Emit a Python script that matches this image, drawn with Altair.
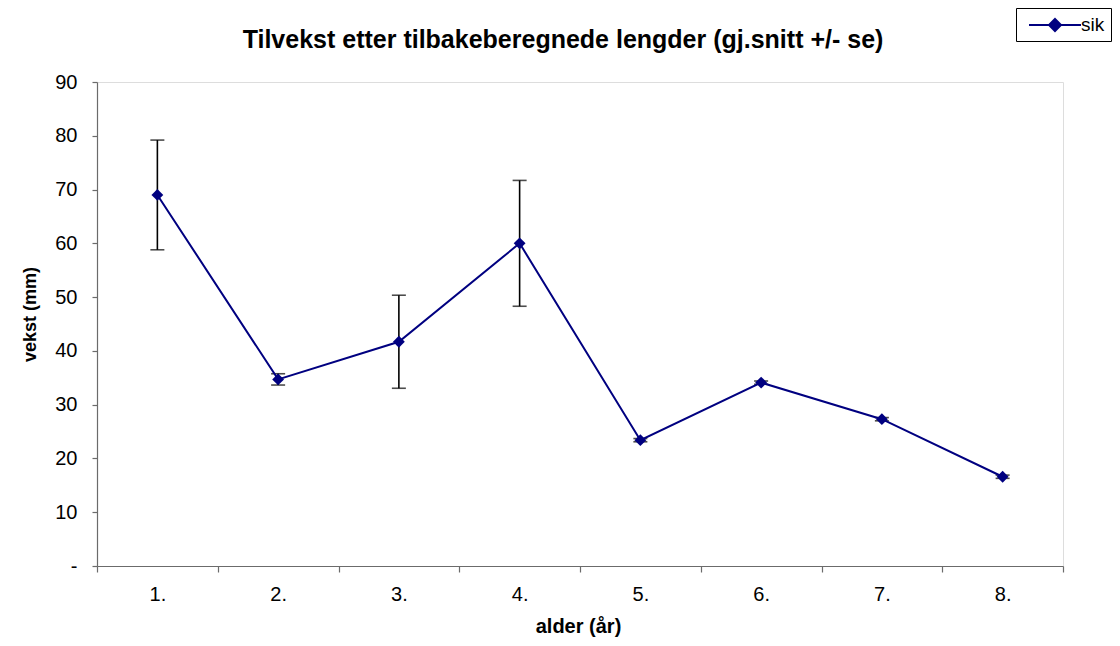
import altair as alt
import pandas as pd

ages = ["1.", "2.", "3.", "4.", "5.", "6.", "7.", "8."]
mean_growth = [69.0, 34.7, 41.7, 60.0, 23.4, 34.1, 27.3, 16.6]
se_growth = [10.2, 1.05, 8.65, 11.7, 0.3, 0.3, 0.3, 0.3]
series = ["sik"] * 8
y_ticks = [0, 10, 20, 30, 40, 50, 60, 70, 80, 90]

df = pd.DataFrame({"alder": ages, "vekst": mean_growth, "se": se_growth, "serie": series})
df["lo"] = df["vekst"] - df["se"]
df["hi"] = df["vekst"] + df["se"]

FONT = "Liberation Sans"
NAVY = "#000080"
AXIS_GREY = "#6b6b6b"

xenc = alt.X(
    "alder:N", sort=ages, bandPosition=0.5,
    scale=alt.Scale(type="band", paddingInner=0, paddingOuter=0),
    axis=alt.Axis(
        title="alder (år)", labelAngle=0, tickBand="extent", tickSize=6,
        labelPadding=12, labelFontSize=20, labelFont=FONT, labelColor="black",
        titleFont=FONT, titleFontSize=20, titleFontWeight="bold", titleColor="black",
        titleX=481, titleY=60, titleBaseline="middle", titleAnchor="middle",
        domainColor=AXIS_GREY, tickColor=AXIS_GREY, domainWidth=1.2, tickWidth=1.2,
    ),
)

yscale = alt.Scale(domain=[0, 90], nice=False, zero=True)
yaxis = alt.Axis(
    title="vekst (mm)", values=y_ticks, grid=False, tickSize=5, labelPadding=15,
    labelExpr="datum.value == 0 ? '-' : datum.label",
    labelFontSize=20, labelFont=FONT, labelColor="black",
    titleFont=FONT, titleFontSize=18, titleFontWeight="bold", titleColor="black",
    titleX=-67, titleY=232, titleAngle=-90, titleBaseline="middle", titleAlign="center",
    domainColor=AXIS_GREY, tickColor=AXIS_GREY, domainWidth=1.2, tickWidth=1.2,
)

base = alt.Chart(df)

err_rule = base.mark_rule(color="black", strokeWidth=1.6).encode(
    x=xenc,
    y=alt.Y("lo:Q", scale=yscale, axis=yaxis),
    y2="hi:Q",
)
err_lo = base.mark_tick(color="black", size=14, thickness=1.6, orient="horizontal").encode(
    x=xenc, y=alt.Y("lo:Q", scale=yscale)
)
err_hi = base.mark_tick(color="black", size=14, thickness=1.6, orient="horizontal").encode(
    x=xenc, y=alt.Y("hi:Q", scale=yscale)
)

# legend symbol: a line with a diamond in the middle (symbol size 400 -> 10px per unit)
legend_symbol = "M -0.4 0 L 4.8 0 M 2.2 -0.6 L 2.8 0 L 2.2 0.6 L 1.6 0 Z"

line = base.mark_line(strokeWidth=2).encode(
    x=xenc,
    y=alt.Y("vekst:Q", scale=yscale),
    color=alt.Color(
        "serie:N",
        scale=alt.Scale(domain=["sik"], range=[NAVY]),
        legend=alt.Legend(
            title=None, orient="none", legendX=919, legendY=-74,
            symbolType=legend_symbol, symbolSize=400, symbolStrokeWidth=2,
            symbolFillColor=NAVY, symbolStrokeColor=NAVY,
            labelFont=FONT, labelFontSize=19, labelColor="black", labelOffset=37,
            strokeColor="black", padding=6, fillColor="white",
        ),
    ),
)

points = base.mark_point(shape="diamond", filled=True, size=140, opacity=1, color=NAVY).encode(
    x=xenc,
    y=alt.Y("vekst:Q", scale=yscale),
)

chart = (
    alt.layer(err_rule, err_lo, err_hi, line, points)
    .properties(
        width=966,
        height=484,
        autosize=alt.AutoSizeParams(type="none"),
        padding={"left": 89, "top": 74, "right": 49, "bottom": 72},
        title=alt.TitleParams(
            "Tilvekst etter tilbakeberegnede lengder (gj.snitt +/- se)",
            font=FONT, fontSize=25, fontWeight="bold", color="black",
            anchor="middle", dx=-17, dy=65, offset=0, baseline="alphabetic",
        ),
    )
    .configure_view(stroke=None)
    .configure(background="white")
)

chart.save("out.html", embed_options={"renderer": "svg", "actions": False})
